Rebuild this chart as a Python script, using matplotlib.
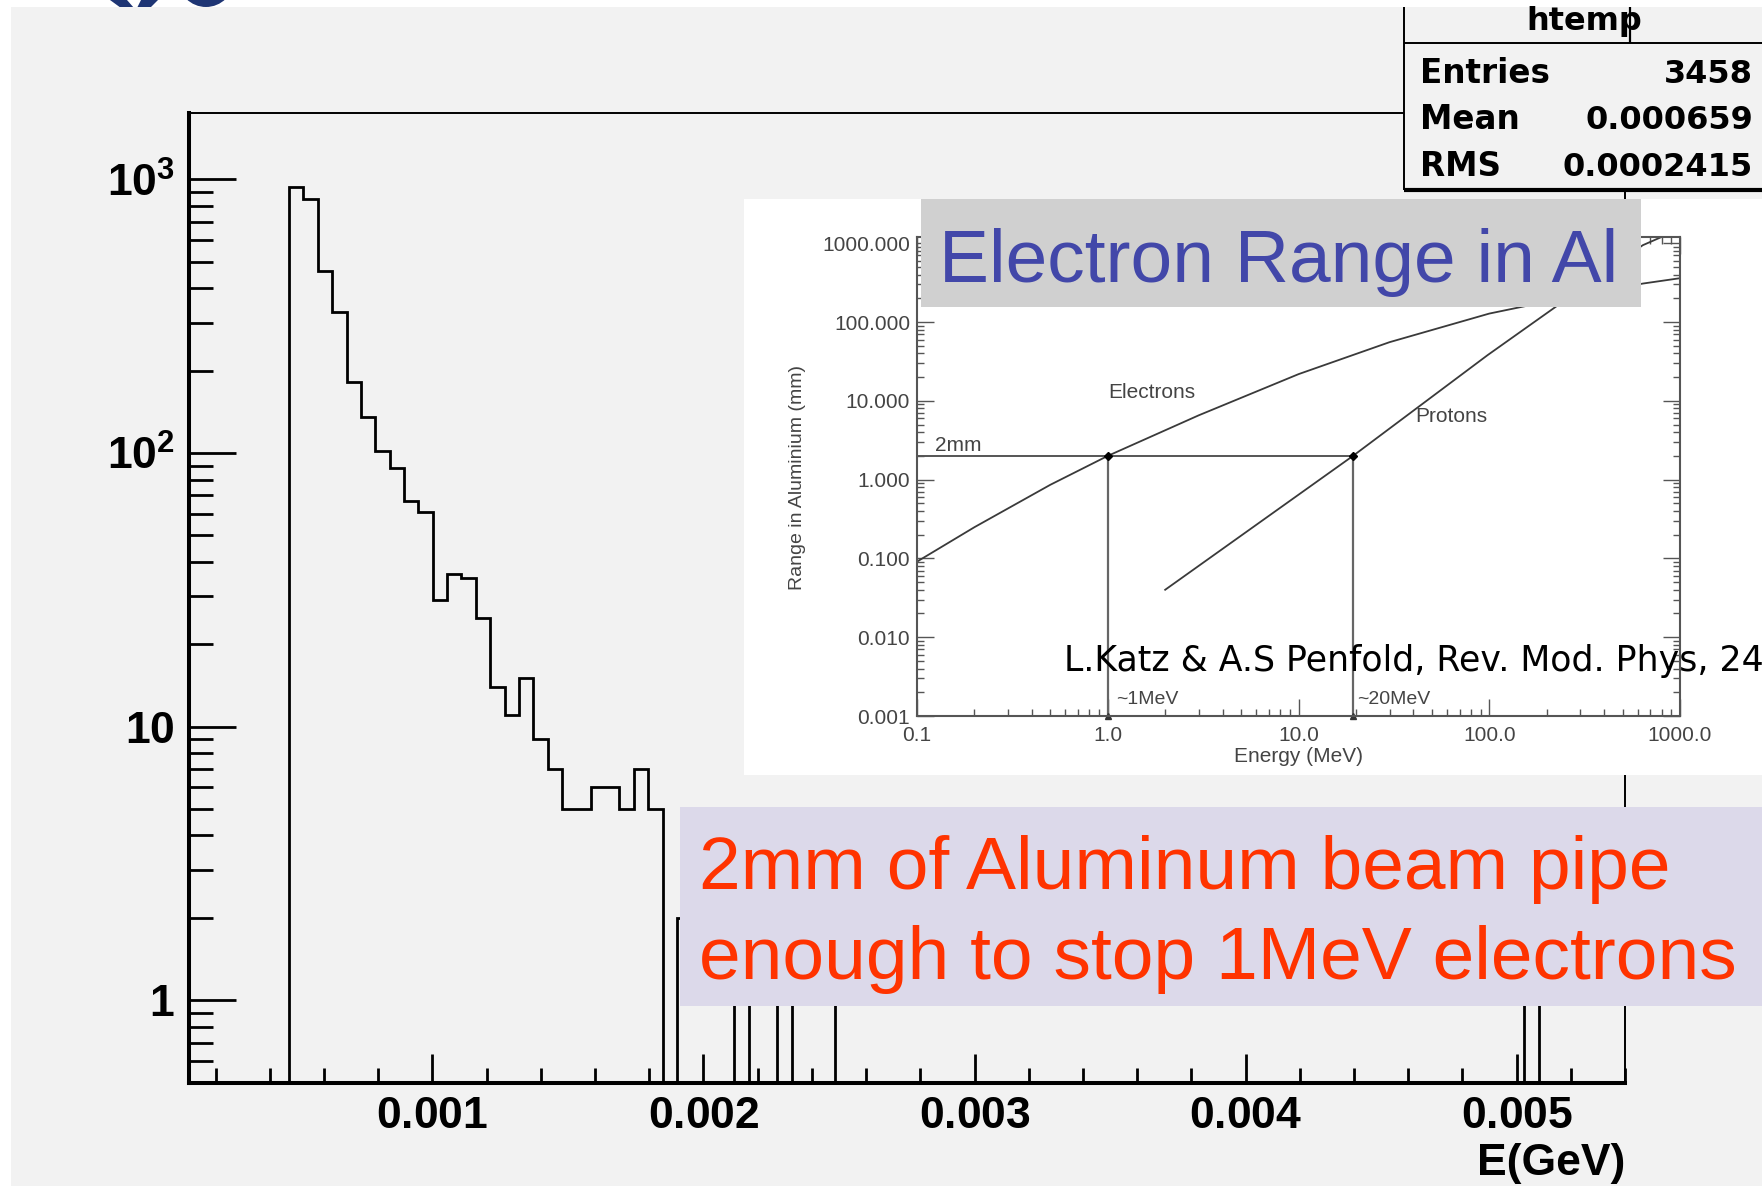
import matplotlib
matplotlib.use("Agg")
import matplotlib.pyplot as plt
import numpy as np
from matplotlib.patches import Rectangle, Polygon, Ellipse
from matplotlib.lines import Line2D
from matplotlib.ticker import MultipleLocator, LogLocator, FuncFormatter, NullFormatter

W, H = 1762, 1186
plt.rcParams['font.family'] = ['Liberation Sans', 'DejaVu Sans']
plt.rcParams['mathtext.fontset'] = 'custom'
plt.rcParams['mathtext.rm'] = 'Liberation Sans'
plt.rcParams['mathtext.bf'] = 'Liberation Sans:bold'

# --- ROOT histogram "htemp", energy in GeV, 100 bins
e_lo, e_hi, n_bins = 0.0001, 0.0054, 100
counts = [
    0, 0, 0, 0, 0, 0, 0, 935, 851, 462,
    327, 182, 135, 102, 88, 67, 61, 29, 36, 35,
    25, 14, 11, 15, 9, 7, 5, 5, 6, 6,
    5, 7, 5, 0, 2, 1, 2, 1, 0, 1,
    2, 0, 1, 1, 1, 0, 0, 0, 0, 0,
    0, 0, 0, 0, 0, 0, 0, 0, 0, 0,
    0, 0, 0, 0, 0, 0, 0, 0, 0, 0,
    0, 0, 0, 0, 0, 0, 0, 0, 0, 0,
    0, 0, 0, 0, 0, 0, 0, 0, 0, 0,
    0, 0, 0, 1, 0, 0, 0, 0, 0, 0,
]
hist_name = "htemp"
stats_rows = [("Entries", "3458"), ("Mean", "0.000659"), ("RMS", "0.0002415")]

# --- inset: range in aluminium (mm) vs energy (MeV)
elec_E = [0.1, 0.2, 0.5, 1.0, 3.0, 10, 30, 100, 300, 640, 1000]
elec_R = [0.091, 0.249, 0.86, 2.0, 6.55, 21.8, 55.5, 128, 222, 308, 360]
prot_E = [2.0, 19.3, 98, 218, 638, 800]
prot_R = [0.04, 2.0, 38, 150, 944, 1200]
cut_range = 2.0      # 2 mm
e_stop, p_stop = 1.0, 19.3


def fx(x):
    return x / W


def fy(y):
    return 1 - y / H


def box(x0, y0, x1, y1, color, z):
    fig.patches.append(Rectangle((fx(x0), fy(y1)), fx(x1) - fx(x0), fy(y0) - fy(y1),
                                 transform=fig.transFigure, fc=color, ec='none', zorder=z))


def seg(x0, y0, x1, y1, lw, z, color='black'):
    fig.lines.append(Line2D([fx(x0), fx(x1)], [fy(y0), fy(y1)], transform=fig.transFigure,
                            color=color, lw=lw, zorder=z, solid_capstyle='butt'))


fig = plt.figure(figsize=(W / 100, H / 100), dpi=100, facecolor='white')

# cut-off logo pieces at the top, then slide background
navy = '#1e3574'
for pts in ([(110, 0), (127, 0), (134, 8), (121, 8)], [(141, 0), (158, 0), (150, 8), (137, 8)]):
    fig.patches.append(Polygon([(fx(a), fy(b)) for a, b in pts], closed=True,
                               transform=fig.transFigure, fc=navy, ec='none', zorder=-3))
fig.patches.append(Ellipse((fx(206), fy(-21)), 56 / W, 56 / H, transform=fig.transFigure,
                           fc=navy, ec='none', zorder=-3))
box(11, 7, W, H, '#f2f2f2', -2)

# main histogram
ax = fig.add_axes([fx(188.5), fy(1082.5), fx(1625) - fx(188.5), fy(113) - fy(1082.5)])
ax.set_facecolor('none')
edges = np.linspace(e_lo, e_hi, n_bins + 1)
vals = np.array(counts, dtype=float)
floor = 1e-2
ax.stairs(np.where(vals > 0, vals, floor), edges, baseline=floor, color='black', lw=2.0)
ax.set_yscale('log')
ax.set_xlim(e_lo, e_hi)
ax.set_ylim(0.5, 1750)

ax.xaxis.set_major_locator(MultipleLocator(0.001))
ax.xaxis.set_minor_locator(MultipleLocator(0.0002))
ax.xaxis.set_major_formatter(FuncFormatter(lambda v, p: r'$\mathbf{%.3f}$' % v))
ax.yaxis.set_major_locator(LogLocator(10))
ax.yaxis.set_minor_locator(LogLocator(10, subs=np.arange(2, 10)))
ax.yaxis.set_minor_formatter(NullFormatter())


def ylab(v, p):
    e = int(round(np.log10(v)))
    if e < 2:
        return r'$\mathbf{%d}$' % round(v)
    return r'$\mathbf{10^{%d}}$' % e


ax.yaxis.set_major_formatter(FuncFormatter(ylab))
ax.tick_params(axis='both', which='both', direction='in', top=False, right=False,
               labelsize=32, width=2.0)
ax.tick_params(axis='y', which='major', length=34, pad=10)
ax.tick_params(axis='y', which='minor', length=17)
ax.tick_params(axis='x', which='major', length=21, pad=10)
ax.tick_params(axis='x', which='minor', length=11)
for s in ['left', 'bottom']:
    ax.spines[s].set_linewidth(2.9)
for s in ['top', 'right']:
    ax.spines[s].set_linewidth(1.4)
ax.set_xlabel('E(GeV)', fontsize=32, fontweight='bold', ha='right', va='top')
ax.xaxis.set_label_coords(1.0, -0.062)

# stats box
box(1404, 7, W, 188, '#f2f2f2', 1)
seg(1404, 7, 1404, 190, 1.4, 1.2)
seg(1404, 189.5, W, 189.5, 3.0, 1.2)
seg(1404, 42.7, W, 42.7, 1.4, 1.2)
seg(1630, 7, 1630, 42.7, 1.6, 1.2)
fig.text(fx(1584), fy(30), hist_name, ha='center', va='baseline', family='DejaVu Sans',
         weight='bold', size=23, zorder=1.5)
for i, (k, v) in enumerate(stats_rows):
    yb = 82.7 + 46.7 * i
    fig.text(fx(1420), fy(yb), k, ha='left', va='baseline', family='DejaVu Sans',
             weight='bold', size=23.5, zorder=1.5)
    fig.text(fx(1753), fy(yb), v, ha='right', va='baseline', family='DejaVu Sans',
             weight='bold', size=23, zorder=1.5)

# inset picture
box(744, 199, W, 775, 'white', 2)
ax2 = fig.add_axes([fx(917), fy(716), fx(1680) - fx(917), fy(237) - fy(716)], zorder=3)
ax2.set_facecolor('none')
ink = '#444444'
ax2.loglog(elec_E, elec_R, color='#3a3a3a', lw=1.3)
ax2.loglog(prot_E, prot_R, color='#3a3a3a', lw=1.3)
ax2.hlines(cut_range, 0.1, p_stop, color='#555555', lw=1.4)
ax2.vlines([e_stop, p_stop], 0.001, cut_range, color='#666666', lw=1.6)
ax2.plot([e_stop, p_stop], [cut_range, cut_range], 'D', ms=4, color='black')
ax2.plot([e_stop, p_stop], [0.001, 0.001], '^', ms=5, color='#333333', clip_on=False)
ax2.set_xlim(0.1, 1000)
ax2.set_ylim(0.001, 1200)
ax2.xaxis.set_major_formatter(FuncFormatter(lambda v, p: '%.1f' % v))
ax2.yaxis.set_major_formatter(FuncFormatter(lambda v, p: '%.3f' % v))
ax2.xaxis.set_minor_formatter(NullFormatter())
ax2.yaxis.set_minor_formatter(NullFormatter())
ax2.xaxis.set_minor_locator(LogLocator(10, subs=np.arange(2, 10)))
ax2.yaxis.set_minor_locator(LogLocator(10, subs=np.arange(2, 10)))
ax2.tick_params(axis='both', which='both', direction='in', top=True, right=True,
                labelsize=15, labelcolor=ink, color='#555555', width=1.0)
ax2.tick_params(which='major', length=12)
ax2.tick_params(which='minor', length=5)
ax2.tick_params(axis='y', pad=5)
ax2.tick_params(axis='x', pad=7)
for s in ax2.spines.values():
    s.set_color('#555555')
    s.set_linewidth(1.5)
ax2.set_xlabel('Energy (MeV)', fontsize=15, color=ink, labelpad=2)
ax2.set_ylabel('Range in Aluminium (mm)', fontsize=14, color=ink)
ax2.yaxis.set_label_coords(-0.1455, 0.498)
ax2.text(1.71, 12.9, 'Electrons', fontsize=15, color=ink, ha='center', va='center')
ax2.text(63.5, 6.3, 'Protons', fontsize=15, color=ink, ha='center', va='center')
ax2.text(0.125, 2.75, '2mm', fontsize=15, color=ink, ha='left', va='center')
ax2.text(1.1, 0.00164, '~1MeV', fontsize=14, color=ink, ha='left', va='center')
ax2.text(20.2, 0.00164, '~20MeV', fontsize=14, color=ink, ha='left', va='center')

# title of inset
box(921, 199, 1641, 307, '#d0d0d0', 4)
fig.text(fx(939), fy(281.7), 'Electron Range in Al', fontsize=54, color='#4247a9',
         va='baseline', zorder=4.5)
fig.text(fx(1064), fy(671), 'L.Katz & A.S Penfold, Rev. Mod. Phys, 24', fontsize=25,
         family='DejaVu Sans', color='black', va='baseline', zorder=4.5)

# message box
box(680, 807, W, 1006, '#dcd9ea', 4)
fig.text(fx(699), fy(889.3), '2mm of Aluminum beam pipe', fontsize=54, color='#ff3300',
         va='baseline', zorder=4.5)
fig.text(fx(699), fy(979.3), 'enough to stop 1MeV electrons', fontsize=54, color='#ff3300',
         va='baseline', zorder=4.5)

fig.savefig('out.png', dpi=100)
